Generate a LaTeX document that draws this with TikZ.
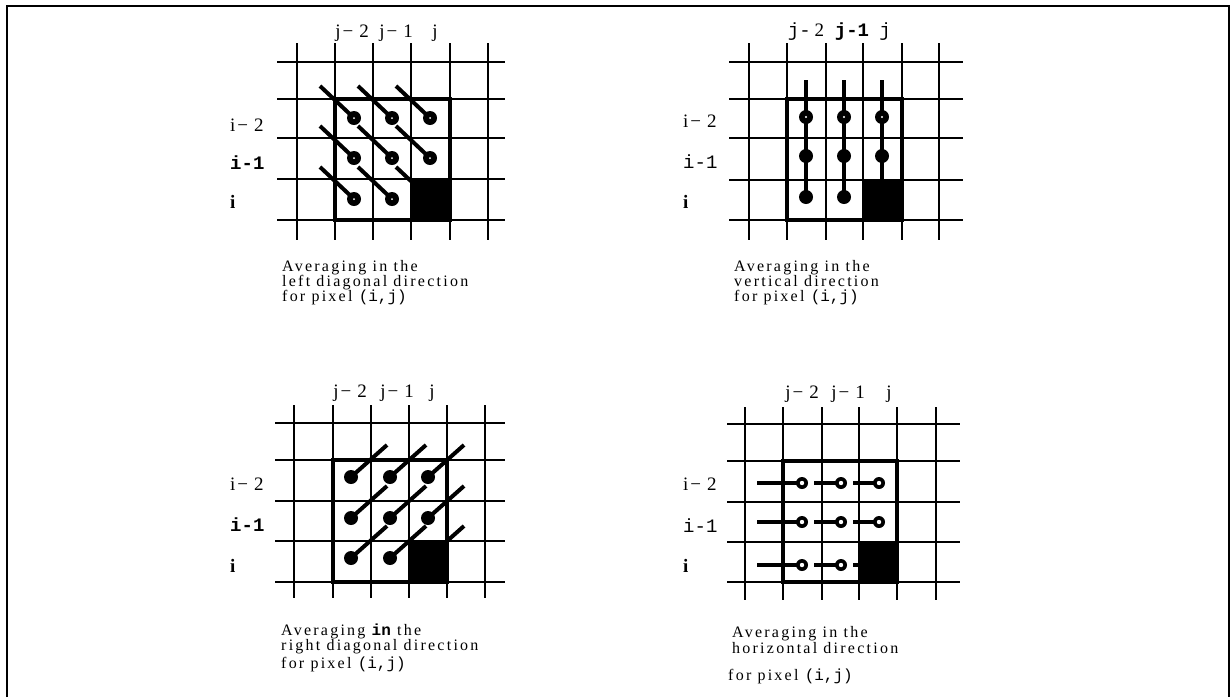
\documentclass[tikz,border=0pt]{standalone}
\usepackage{fontspec}
\setmainfont{Liberation Serif}
\setmonofont{Liberation Mono}
\newfontfamily\capfont[LetterSpace=14]{Liberation Serif}
\newfontfamily\capmono{Liberation Mono}
\newcommand{\jlab}[2]{#1\hspace{2pt}−\hspace{6pt}#2}
\begin{document}
\begin{tikzpicture}[x=1pt,y=-1pt,
  gridline/.style={line width=2.2pt},
  boxline/.style={line width=4pt},
  stick/.style={line width=4pt},
  framel/.style={line width=2pt},
  lbl/.style={font=\fontsize{19}{19}\selectfont, inner sep=0pt},
  capt/.style={font=\fontsize{16}{16}\selectfont\capfont, inner sep=0pt, anchor=base west, text height=11pt, text depth=1.5pt}]
\useasboundingbox (0,0) rectangle (1231,697);
% frame
\draw[framel] (7,697) -- (7,6) -- (1229,6) -- (1229,697);

% ---------- Panel 1: left diagonal ----------
\foreach \x in {297,335,373,411,450,488} \draw[gridline] (\x,43) -- (\x,240);
\foreach \y in {62,99,138,179,220} \draw[gridline] (277,\y) -- (505,\y);
\foreach \cx in {354,392,430} \foreach \cy in {118,158,199} {
  \draw[stick] (\cx,\cy) -- ++(-34,-32);
  \fill (\cx,\cy) circle[radius=7pt];
  \fill[white] (\cx,\cy) circle[radius=1pt];
}
\draw[boxline] (335,99) rectangle (450,220);
\fill (411,179) rectangle (450,220);
\node[lbl,anchor=base] (p1c1) at (352,37) {\jlab{j}{2}};
\node[lbl,anchor=base] (p1c2) at (396,37) {\jlab{j}{1}};
\node[lbl,anchor=base] (p1c3) at (435,37) {j};
\node[lbl,anchor=base west] (p1r1) at (230,131) {\jlab{i}{2}};
\node[lbl,anchor=base west] (p1r2) at (230,169) {\textbf{\texttt{i-1}}};
\node[lbl,anchor=base west] (p1r3) at (230,208) {\textbf{i}};
\node[capt] (p1capa) at (282,271) {Averaging in the};
\node[capt] (p1capb) at (282,286) {left diagonal direction};
\node[capt] (p1capc) at (282,301) {for pixel {\capmono (i,j)}};

% ---------- Panel 2: vertical ----------
\foreach \x in {749,787,826,863,902,939} \draw[gridline] (\x,43) -- (\x,240);
\foreach \y in {62,99,138,180,220} \draw[gridline] (729,\y) -- (963,\y);
\foreach \cx in {806,844,882} \foreach \cy in {117,156,197} {
  \draw[stick] (\cx,\cy) -- ++(0,-37);
  \fill (\cx,\cy) circle[radius=7pt];
}
\foreach \cx in {806,844,882} \fill[white] (\cx,117) circle[radius=1.2pt];
\draw[boxline] (787,99) rectangle (902,220);
\fill (863,180) rectangle (902,220);
\node[lbl,anchor=base] (p2c1) at (806,36) {\texttt{j-}\hspace{4pt}2};
\node[lbl,anchor=base] (p2c2) at (852,36) {\textbf{\texttt{j-1}}};
\node[lbl,anchor=base] (p2c3) at (885,36) {\texttt{j}};
\node[lbl,anchor=base west] (p2r1) at (683,127) {\jlab{i}{2}};
\node[lbl,anchor=base west] (p2r2) at (683,168) {\texttt{i-1}};
\node[lbl,anchor=base west] (p2r3) at (683,208) {\textbf{i}};
\node[capt] (p2capa) at (734,271) {Averaging in the};
\node[capt] (p2capb) at (734,286) {vertical direction};
\node[capt] (p2capc) at (734,301) {for pixel {\capmono (i,j)}};

% ---------- Panel 3: right diagonal ----------
\foreach \x in {294,333,371,409,447,485} \draw[gridline] (\x,405) -- (\x,598);
\foreach \y in {423,460,501,541,582} \draw[gridline] (275,\y) -- (505,\y);
\foreach \cx in {351,390,428} \foreach \cy in {477,518,558} {
  \draw[stick] (\cx,\cy) -- ++(36,-32);
  \fill (\cx,\cy) circle[radius=7pt];
}
\draw[boxline] (333,460) rectangle (447,582);
\fill (409,541) rectangle (447,582);
\node[lbl,anchor=base] (p3c1) at (350,397) {\jlab{j}{2}};
\node[lbl,anchor=base] (p3c2) at (397,397) {\jlab{j}{1}};
\node[lbl,anchor=base] (p3c3) at (432,397) {j};
\node[lbl,anchor=base west] (p3r1) at (230,490) {\jlab{i}{2}};
\node[lbl,anchor=base west] (p3r2) at (230,531) {\textbf{\texttt{i-1}}};
\node[lbl,anchor=base west] (p3r3) at (230,572) {\textbf{i}};
\node[capt] (p3capa) at (281,635) {Averaging {\capmono\bfseries in} the};
\node[capt] (p3capb) at (281,650) {right diagonal direction};
\node[capt] (p3capc) at (281,668) {for pixel {\capmono (i,j)}};

% ---------- Panel 4: horizontal ----------
\foreach \x in {745,783,822,859,897,936} \draw[gridline] (\x,407) -- (\x,600);
\foreach \y in {424,461,502,542,582} \draw[gridline] (727,\y) -- (960,\y);
\foreach \cy in {483,522,565} {
  \draw[stick] (757,\cy) -- (802,\cy);
  \draw[stick] (814,\cy) -- (841,\cy);
  \draw[stick] (853,\cy) -- (879,\cy);
  \foreach \cx in {802,841,879} {
    \fill (\cx,\cy) circle[radius=6pt];
    \fill[white] (\cx,\cy) circle[radius=2.2pt];
  }
}
\draw[boxline] (783,461) rectangle (897,582);
\fill (859,542) rectangle (897,582);
\node[lbl,anchor=base] (p4c1) at (802,398) {\jlab{j}{2}};
\node[lbl,anchor=base] (p4c2) at (848,398) {\jlab{j}{1}};
\node[lbl,anchor=base] (p4c3) at (889,398) {j};
\node[lbl,anchor=base west] (p4r1) at (683,490) {\jlab{i}{2}};
\node[lbl,anchor=base west] (p4r2) at (683,532) {\texttt{i-1}};
\node[lbl,anchor=base west] (p4r3) at (683,572) {\textbf{i}};
\node[capt] (p4capa) at (732,637) {Averaging in the};
\node[capt] (p4capb) at (732,653) {horizontal direction};
\node[capt] (p4capc) at (728,680) {for pixel {\capmono (i,j)}};
\end{tikzpicture}
\end{document}
